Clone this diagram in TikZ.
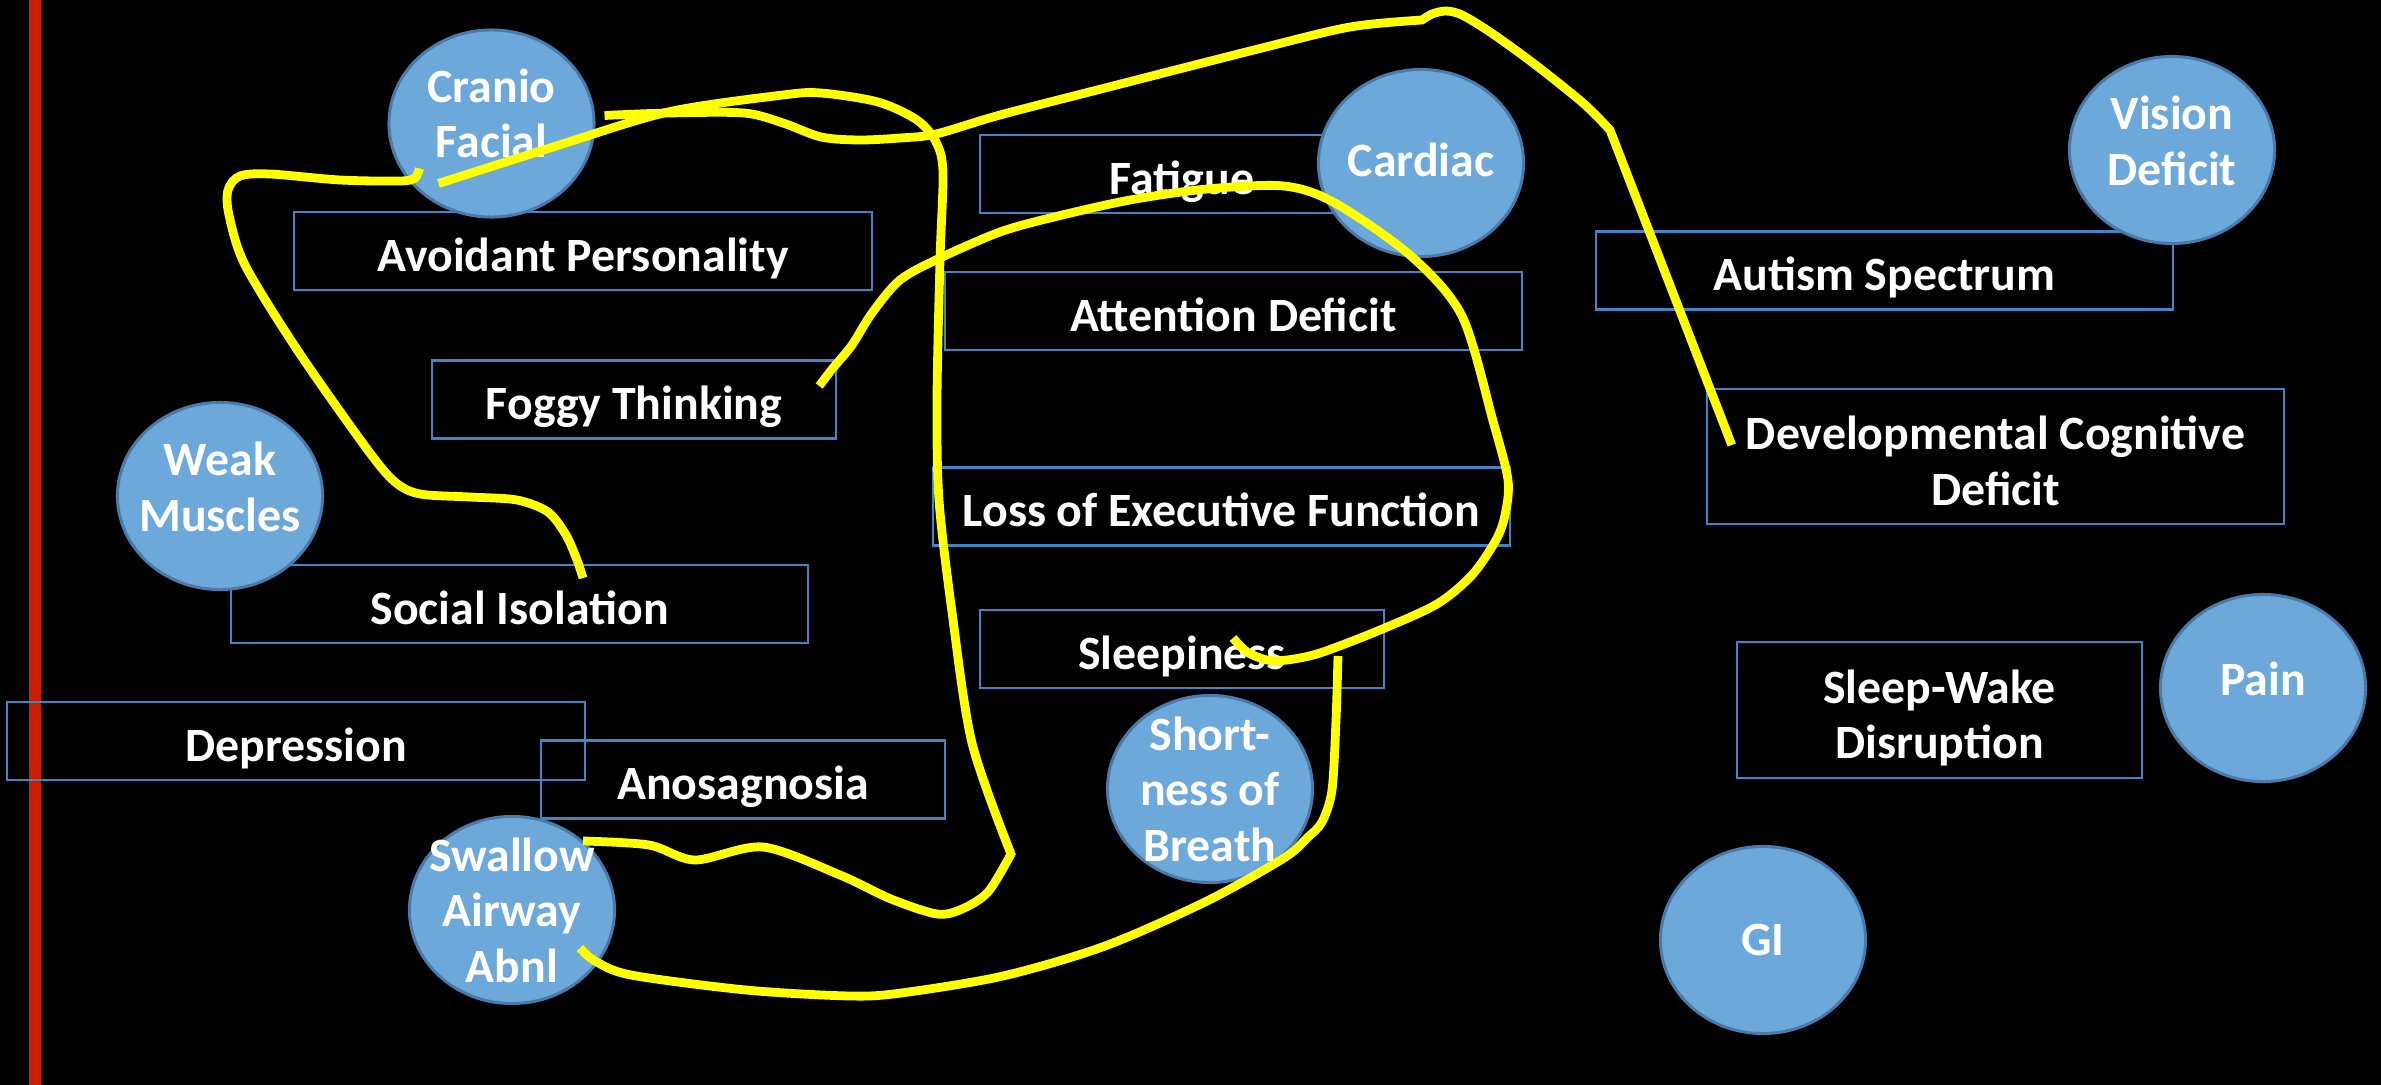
\documentclass[tikz,border=0pt]{standalone}
\usepackage{fontspec}
\setmainfont{Carlito}
\usetikzlibrary{shapes.geometric,calc}
\definecolor{boxline}{RGB}{62,134,200}
\definecolor{bubfill}{RGB}{108,168,218}
\definecolor{bubline}{RGB}{74,122,170}
\definecolor{redbar}{RGB}{204,30,0}
\definecolor{marker}{RGB}{255,255,0}
\newcommand{\lbl}{\fontsize{13.6}{15.8}\selectfont\bfseries}

\begin{document}
\begin{tikzpicture}[x=0.01cm,y=-0.01cm,
    box/.style={draw=boxline,line width=0.6pt,minimum width=4.04cm,minimum height=0.78cm,inner sep=0pt,text=white,font=\lbl,align=center},
    wide/.style={box,minimum width=5.77cm},
    oneliner/.style={text height=1.36em,text depth=0.22em},
    bubble/.style={ellipse,fill=bubfill,draw=bubline,line width=0.85pt,minimum width=2.05cm,minimum height=1.87cm,inner sep=0pt},
    bubtext/.style={text=white,font=\lbl,align=center},
    scribble/.style={draw=marker,line width=2.5pt}]
          \useasboundingbox (0,0) rectangle (2381,1085);
          \fill[black] (0,0) rectangle (2381,1085);
          \fill[redbar] (29,0) rectangle (41,1085);
          % boxes
          \node[wide,oneliner] (avoid) at (583,251) {Avoidant Personality};
          \node[box,oneliner] (foggy) at (634,399.5) {Foggy Thinking};
          \node[box,oneliner] (fatigue) at (1182,174) {Fatigue};
          \node[wide,oneliner] (attn) at (1233.5,311) {Attention Deficit};
          \node[wide,oneliner] (exec) at (1221.5,506.5) {Loss of Executive Function};
          \node[box,oneliner] (sleepy) at (1182,649) {Sleepiness};
          \node[wide,oneliner] (autism) at (1884.5,270.5) {Autism Spectrum};
          \node[wide,minimum height=1.35cm,label={[bubtext,yshift=-0.045cm]center:Developmental Cognitive\\Deficit}] (devcog) at (1995.5,456.5) {};
          \node[box,minimum height=1.36cm,label={[bubtext,yshift=-0.08cm]center:Sleep-Wake\\Disruption}] (sleepwake) at (1939.5,710) {};
          \node[wide,oneliner] (social) at (519.5,604) {Social Isolation};
          \node[wide,oneliner] (depress) at (296,741) {Depression};
          \node[box,oneliner] (anosag) at (743,779.5) {Anosagnosia};
          % bubbles
          \node[bubble,label={[bubtext,yshift=0.1cm]center:Cranio\\Facial}] (cranio) at (491.5,123.5) {};
          \node[bubble,label={[bubtext,yshift=0.09cm]center:Weak\\Muscles}] (weak) at (220,496) {};
          \node[bubble,label={[bubtext,yshift=0.03cm]center:Cardiac}] (cardiac) at (1421,163) {};
          \node[bubble,label={[bubtext,yshift=0.09cm]center:Vision\\Deficit}] (vision) at (2172,150) {};
          \node[bubble,label={[bubtext]center:Swallow\\Airway\\Abnl}] (swallow) at (512,910) {};
          \node[bubble,label={[bubtext]center:Short-\\ness of\\Breath}] (breath) at (1210,789) {};
          \node[bubble,label={[bubtext,yshift=0.09cm]center:Pain}] (pain) at (2263,688) {};
          \node[bubble,label={[bubtext]center:GI}] (gi) at (1763,940) {};
          % marker strokes
          \draw[scribble] plot[smooth] coordinates {($(cranio)+(-72,45)$) (415,178) (400,181) (340,180) (270,174) (240,176) (228,190) (229,215) (245,265) (298,351) (367,449) (395,482) (420,494) (470,497) (517,500) (548,512) (566,535) (577,560) ($(social)+(63.5,-26)$)};
          \draw[scribble] plot[smooth] coordinates {($(cranio)+(-53,60)$) (553,147) (668,112) (783,95) (821,93) (878,102) (917,120) (936,142) (943,172) (940,260) (937,400) (939,500) (952,612) (972,743) (1011,854)}
            -- plot[smooth] coordinates {(1011,854) (988,892) (962,909) (937,914) (891,899) (840,875) (763,847) (695,860) (649,845) ($(swallow)+(71,-69)$)};
          \draw[scribble] plot[smooth] coordinates {($(cranio.east)+(9,-8)$) (668,113) (744,113) (783,123) (821,137) (859,140) (900,138) (936,134) (1000,115) (1105,88) (1258,49) (1350,27) (1422,20)}
            -- plot[smooth] coordinates {(1422,20) (1432,14) (1446,11) (1462,15) (1490,32) (1533,63) (1583,103) (1610,130)}
            -- ($(devcog.west)+(26,-11.5)$);
          \draw[scribble] plot[smooth] coordinates {($(foggy.east)+(-18,-13.5)$) (833,368) (852,345) (872,313) (900,280) (940,258) (1000,232) (1054,217) (1130,200) (1207,189) (1284,186) (1335,203) (1411,256) (1462,316) (1493,421) (1508,480) (1505,515) (1496,540) (1472,575) (1437,604) (1380,630) (1320,653) (1287,660) (1267,660) (1247,652) ($(sleepy)+(51,-11)$)};
          \draw[scribble] plot[smooth] coordinates {($(sleepy)+(156,7)$) (1336,720) (1332,790) (1322,822) (1307,838) (1284,858) (1207,901) (1105,946) (1003,976) (901,993) (850,996) (746,990) (631,975) (595,961) ($(swallow)+(68,38)$)};
    \end{tikzpicture}
\end{document}
